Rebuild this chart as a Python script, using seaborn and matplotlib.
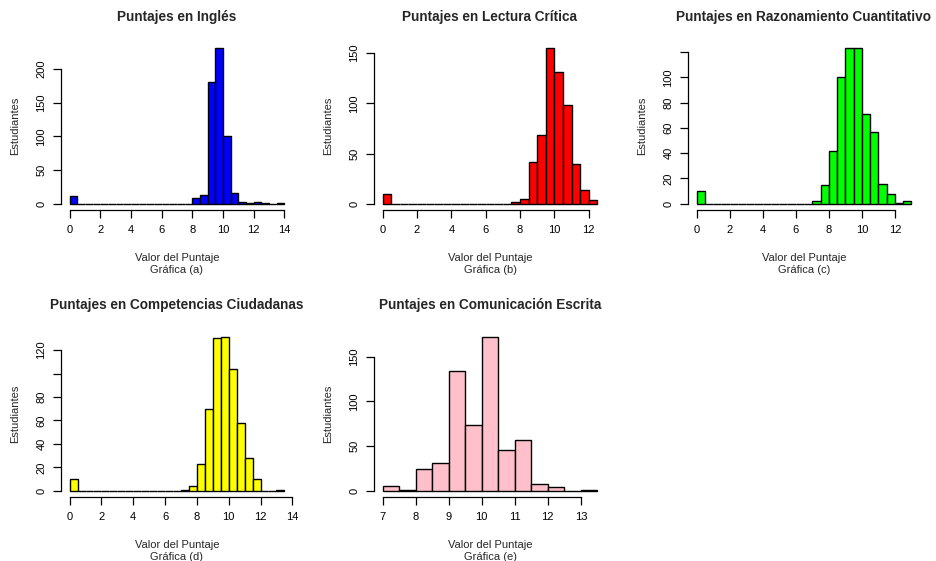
import numpy as np
import pandas as pd
import seaborn as sns
import matplotlib
matplotlib.use("Agg")
import matplotlib.pyplot as plt

sns.set_theme(style="white")
plt.rcParams['font.family'] = ['Liberation Sans', 'DejaVu Sans']

# ---- data (bin edges start, bin width, counts) ----
titles = ["Puntajes en Inglés", "Puntajes en Lectura Crítica",
          "Puntajes en Razonamiento Cuantitativo",
          "Puntajes en Competencias Ciudadanas",
          "Puntajes en Comunicación Escrita"]
subs = ["Gráfica (a)", "Gráfica (b)", "Gráfica (c)", "Gráfica (d)", "Gráfica (e)"]
colors = ["#0000FF", "#FF0000", "#00FF00", "#FFFF00", "#FFC0CB"]

start_a = 0.0
counts_a = [11, 0, 0, 0, 0, 0, 0, 0, 0, 0, 0, 0, 0, 0, 0, 0,
            9, 13, 181, 231, 101, 16, 2, 1, 2, 1, 0, 1]
start_b = 0.0
counts_b = [10, 0, 0, 0, 0, 0, 0, 0, 0, 0, 0, 0, 0, 0, 0, 2,
            5, 42, 69, 155, 131, 98, 40, 14, 4]
start_c = 0.0
counts_c = [10, 0, 0, 0, 0, 0, 0, 0, 0, 0, 0, 0, 0, 0, 2, 15,
            42, 100, 123, 123, 71, 57, 16, 8, 1, 2]
start_d = 0.0
counts_d = [10, 0, 0, 0, 0, 0, 0, 0, 0, 0, 0, 0, 0, 0, 1, 4,
            23, 70, 130, 131, 104, 58, 28, 10, 0, 0, 1]
start_e = 7.0
counts_e = [5, 1, 25, 31, 134, 74, 172, 46, 57, 8, 4, 0, 1]

bin_width = 0.5

xticks_list = [np.arange(0, 15, 2), np.arange(0, 13, 2), np.arange(0, 13, 2),
               np.arange(0, 15, 2), np.arange(7, 14, 1)]
yticks_list = [[0, 50, 100, 150, 200], [0, 50, 100, 150],
               [0, 20, 40, 60, 80, 100, 120], [0, 20, 40, 60, 80, 100, 120],
               [0, 50, 100, 150]]
ylabels_list = [["0", "50", "100", "150", "200"], ["0", "50", "100", "150"],
                ["0", "20", "40", "60", "80", "100", ""],
                ["0", "20", "40", "60", "80", "", "120"],
                ["0", "50", "100", "150"]]

starts = [start_a, start_b, start_c, start_d, start_e]
counts_all = [counts_a, counts_b, counts_c, counts_d, counts_e]

W, H = 937, 561
fig = plt.figure(figsize=(W / 100, H / 100), dpi=100)

# plot regions in pixels: (left, top, right, bottom)
boxes = [(61, 42, 293, 210), (374, 42, 606, 210), (688, 42, 920, 210),
         (61, 331, 293, 497), (374, 331, 606, 497)]
title_pads = [15, 15, 15, 16, 16]

FS = 8.0
for i in range(5):
    l, t, r, b = boxes[i]
    ax = fig.add_axes([l / W, 1 - b / H, (r - l) / W, (b - t) / H])
    cnt = [float(c) for c in counts_all[i]]
    edges = [starts[i] + bin_width * k for k in range(len(cnt) + 1)]
    centers = [(edges[k] + edges[k + 1]) / 2 for k in range(len(cnt))]
    df = pd.DataFrame({"x": centers, "w": cnt})
    sns.histplot(data=df, x="x", weights="w", bins=edges, ax=ax,
                 color=colors[i], edgecolor="black", linewidth=1.0, alpha=1.0)
    xmin, xmax = edges[0], edges[-1]
    pad = 0.04 * (xmax - xmin)
    ax.set_xlim(xmin - pad, xmax + pad)
    ymax = max(cnt)
    ax.set_ylim(-0.04 * ymax, ymax * 1.04)
    for s in ["top", "right"]:
        ax.spines[s].set_visible(False)
    for s in ["left", "bottom"]:
        ax.spines[s].set_color("black")
        ax.spines[s].set_linewidth(0.9)
    xt = xticks_list[i]
    ax.set_xticks(xt)
    ax.set_xticklabels([str(v) for v in xt])
    ax.spines["bottom"].set_bounds(xt[0], xt[-1])
    yt = yticks_list[i]
    ax.set_yticks(yt)
    ax.set_yticklabels(ylabels_list[i], rotation=90, va="center")
    ax.spines["left"].set_bounds(yt[0], yt[-1])
    ax.tick_params(axis="both", direction="out", length=6, width=0.9,
                   color="black", labelsize=FS, labelcolor="black",
                   bottom=True, left=True)
    ax.tick_params(axis="x", pad=5)
    ax.tick_params(axis="y", pad=4.5)
    ax.set_xlabel("Valor del Puntaje\n" + subs[i], fontsize=FS,
                  linespacing=1.25, labelpad=13)
    ax.set_ylabel("Estudiantes", fontsize=FS, labelpad=12)
    ax.set_title(titles[i], fontsize=9.8, fontweight="bold", pad=title_pads[i])
    ax.grid(False)
    ax.set_facecolor("white")

fig.savefig("out.png", dpi=100, facecolor="white")
